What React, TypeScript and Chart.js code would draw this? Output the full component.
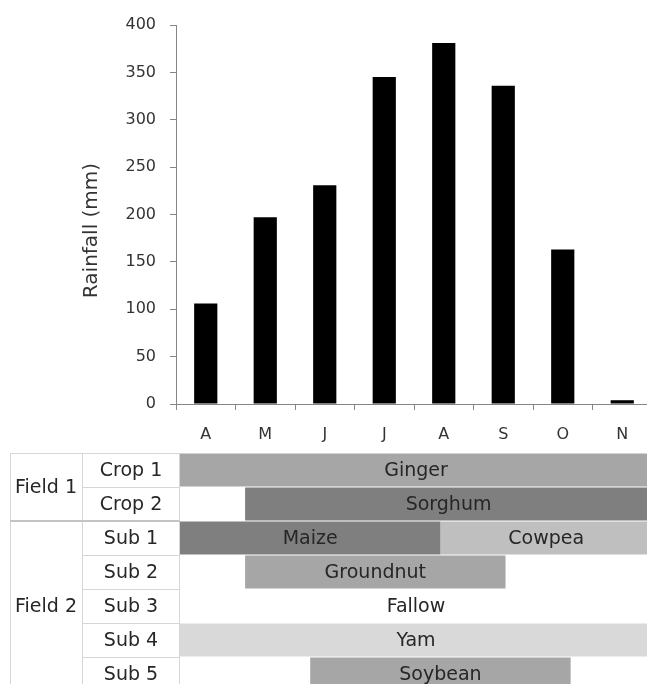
import React, { useEffect, useRef } from 'react';
import { Chart, registerables } from 'chart.js';

Chart.register(...registerables);

// ---- Rainfall chart data ----
const months = ['A', 'M', 'J', 'J', 'A', 'S', 'O', 'N'];
const rainfall = [106, 197, 231, 345, 381, 336, 163, 4];
const yMin = 0;
const yMax = 400;
const yStep = 50;
const yTitle = 'Rainfall (mm)';

// ---- Cropping calendar table data (x in months from start of April) ----
const rowLabels = ['Crop 1', 'Crop 2', 'Sub 1', 'Sub 2', 'Sub 3', 'Sub 4', 'Sub 5'];
const fieldNames = ['Field 1', 'Field 2'];
const fieldRowCounts = [2, 5];
const tableSpan = 7.25;
const firstCrop = ['Ginger', 'Sorghum', 'Maize', 'Groundnut', 'Fallow', 'Yam', 'Soybean'];
const firstStart = [0, 1, 0, 1, 0, 0, 2];
const firstEnd = [7.25, 7.25, 4, 5, 7.25, 7.25, 6];
const secondCrop = ['', '', 'Cowpea', '', '', '', ''];
const secondStart: (number | null)[] = [null, null, 4, null, null, null, null];
const secondEnd: (number | null)[] = [null, null, 7.25, null, null, null, null];

// ---- styles ----
const FONT = "'DejaVu Sans'";
const AXIS_COLOR = '#868686';
const TEXT_COLOR = '#333333';
const firstColors = ['#a6a6a6', '#7f7f7f', '#7f7f7f', '#a6a6a6', 'rgba(0,0,0,0)', '#d9d9d9', '#a6a6a6'];
const secondColors = ['#bfbfbf', '#bfbfbf', '#bfbfbf', '#bfbfbf', '#bfbfbf', '#bfbfbf', '#bfbfbf'];

const yTitlePlugin = {
  id: 'yTitlePlugin',
  afterDraw(chart: any) {
    const { ctx, chartArea } = chart;
    ctx.save();
    ctx.translate(92, (chartArea.top + chartArea.bottom) / 2 + 16);
    ctx.rotate(-Math.PI / 2);
    ctx.font = `20px ${FONT}`;
    ctx.fillStyle = TEXT_COLOR;
    ctx.textAlign = 'center';
    ctx.textBaseline = 'middle';
    ctx.fillText(yTitle, 0, 0);
    ctx.restore();
  },
};

const tablePlugin = {
  id: 'tablePlugin',
  afterDatasetsDraw(chart: any) {
    const { ctx, chartArea } = chart;
    const yScale = chart.scales.y;
    const n = rowLabels.length;
    const rowH = (chartArea.bottom - chartArea.top) / n;
    const rowTop = (i: number) => yScale.getPixelForValue(i) - rowH / 2;
    const leftEdge = 10;
    const fieldRight = 82;
    const cropRight = chartArea.left;

    ctx.save();
    ctx.strokeStyle = '#d6d6d6';
    ctx.lineWidth = 1;
    const hLine = (x0: number, x1: number, y: number) => {
      ctx.beginPath();
      ctx.moveTo(x0, Math.round(y) + 0.5);
      ctx.lineTo(x1, Math.round(y) + 0.5);
      ctx.stroke();
    };
    const vLine = (x: number, y0: number, y1: number) => {
      ctx.beginPath();
      ctx.moveTo(x + 0.5, y0);
      ctx.lineTo(x + 0.5, y1);
      ctx.stroke();
    };
    hLine(leftEdge, cropRight, rowTop(0));
    for (let i = 1; i <= n; i++) hLine(fieldRight, cropRight, rowTop(i));
    vLine(leftEdge, rowTop(0), chartArea.bottom);
    vLine(fieldRight, rowTop(0), chartArea.bottom);
    vLine(cropRight - 1, rowTop(0), chartArea.bottom);

    ctx.strokeStyle = '#c4c4c4';
    ctx.lineWidth = 2;
    let acc = 0;
    fieldRowCounts.forEach((c, k) => {
      acc += c;
      if (k < fieldRowCounts.length - 1) {
        ctx.beginPath();
        ctx.moveTo(leftEdge, rowTop(acc));
        ctx.lineTo(cropRight, rowTop(acc));
        ctx.stroke();
      }
    });

    ctx.fillStyle = '#262626';
    ctx.font = `19px ${FONT}`;
    ctx.textAlign = 'center';
    ctx.textBaseline = 'middle';

    let start = 0;
    fieldRowCounts.forEach((c, k) => {
      const yc = (rowTop(start) + rowTop(start + c)) / 2;
      ctx.fillText(fieldNames[k], (leftEdge + fieldRight) / 2, yc + 1);
      start += c;
    });
    rowLabels.forEach((lab, i) => {
      ctx.fillText(lab, (fieldRight + cropRight) / 2, yScale.getPixelForValue(i) + 1);
    });
    const names = [firstCrop, secondCrop];
    names.forEach((list, d) => {
      const meta = chart.getDatasetMeta(d);
      meta.data.forEach((el: any, i: number) => {
        const name = list[i];
        if (!name) return;
        const p = el.getProps(['x', 'base', 'y'], true);
        if (p.x == null || isNaN(p.x)) return;
        ctx.fillText(name, (p.x + p.base) / 2, p.y + 1);
      });
    });
    ctx.restore();
  },
};

export default function App() {
  const topRef = useRef<HTMLCanvasElement | null>(null);
  const tableRef = useRef<HTMLCanvasElement | null>(null);

  useEffect(() => {
    const top = new Chart(topRef.current as HTMLCanvasElement, {
      type: 'bar',
      data: {
        labels: months,
        datasets: [
          {
            data: rainfall,
            backgroundColor: '#000000',
            borderWidth: 0,
            barPercentage: 0.39,
            categoryPercentage: 1,
          },
        ],
      },
      options: {
        animation: false,
        responsive: false,
        events: [],
        layout: { padding: { left: 77, right: 8, top: 25, bottom: 0 } },
        plugins: { legend: { display: false }, tooltip: { enabled: false } },
        scales: {
          x: {
            grid: {
              display: true,
              drawOnChartArea: false,
              drawTicks: true,
              tickLength: 6,
              color: AXIS_COLOR,
              offset: true,
            },
            border: { display: true, color: AXIS_COLOR, width: 1 },
            ticks: {
              color: TEXT_COLOR,
              font: { family: FONT, size: 16 },
              padding: 15,
              maxRotation: 0,
              autoSkip: false,
            },
            afterFit: (s: any) => {
              s.height = 46;
            },
          },
          y: {
            min: yMin,
            max: yMax,
            grid: {
              display: true,
              drawOnChartArea: false,
              drawTicks: true,
              tickLength: 6,
              color: AXIS_COLOR,
            },
            border: { display: true, color: AXIS_COLOR, width: 1 },
            ticks: {
              stepSize: yStep,
              color: TEXT_COLOR,
              font: { family: FONT, size: 16 },
              padding: 14,
            },
            afterFit: (s: any) => {
              s.width = 99;
            },
          },
        },
      },
      plugins: [yTitlePlugin],
    });

    const table = new Chart(tableRef.current as HTMLCanvasElement, {
      type: 'bar',
      data: {
        labels: rowLabels,
        datasets: [
          {
            data: firstStart.map((s, i) => [s, firstEnd[i]]) as any,
            backgroundColor: firstColors,
            borderWidth: 0,
            grouped: false,
            barPercentage: 0.97,
            categoryPercentage: 1,
          },
          {
            data: secondStart.map((s, i) => (s == null ? null : [s, secondEnd[i]])) as any,
            backgroundColor: secondColors,
            borderWidth: 0,
            grouped: false,
            barPercentage: 0.97,
            categoryPercentage: 1,
          },
        ],
      },
      options: {
        indexAxis: 'y',
        animation: false,
        responsive: false,
        events: [],
        layout: { padding: { left: 180, right: 8, top: 13, bottom: 9 } },
        plugins: { legend: { display: false }, tooltip: { enabled: false } },
        scales: {
          x: { display: false, min: 0, max: tableSpan },
          y: { display: false },
        },
      },
      plugins: [tablePlugin],
    });

    return () => {
      top.destroy();
      table.destroy();
    };
  }, []);

  return (
    <div
      style={{
        position: 'fixed',
        left: 0,
        top: 0,
        width: 647,
        height: 684,
        overflow: 'hidden',
        background: '#ffffff',
      }}
    >
      <canvas
        ref={topRef}
        width={660}
        height={450}
        style={{ position: 'absolute', left: 0, top: 0, width: 660, height: 450 }}
      />
      <canvas
        ref={tableRef}
        width={660}
        height={260}
        style={{ position: 'absolute', left: 0, top: 440, width: 660, height: 260 }}
      />
    </div>
  );
}
